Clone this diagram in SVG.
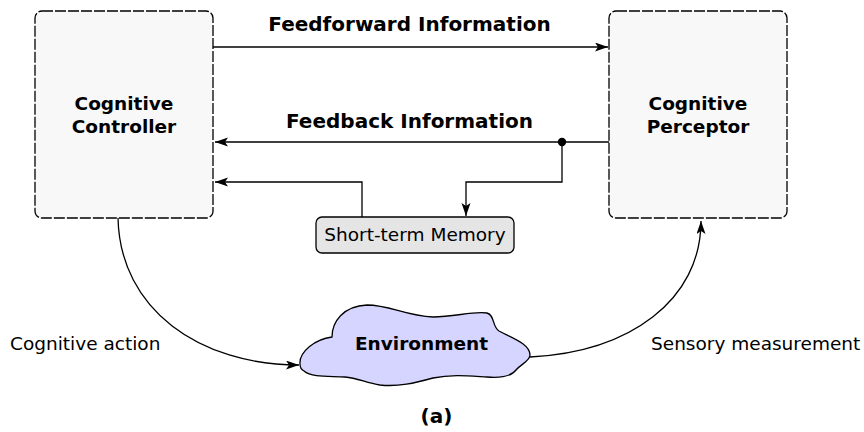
<svg xmlns="http://www.w3.org/2000/svg" width="864" height="432" viewBox="0 0 864 432">
<defs>
<marker id="arr" markerUnits="userSpaceOnUse" markerWidth="14" markerHeight="10" refX="13" refY="4.5" orient="auto">
<path d="M0,0 L13,4.5 L0,9 L3,4.5 z" fill="#000"/>
</marker>
<style>
.box{fill:#f8f8f8;stroke:#000;stroke-width:1.3;stroke-dasharray:11,2}
.line{fill:none;stroke:#000;stroke-width:1.3}
.b{font-family:"DejaVu Sans",Verdana,sans-serif;font-weight:bold;font-size:18.5px;fill:#000;text-anchor:middle}
.h{font-family:"DejaVu Sans",Verdana,sans-serif;font-weight:bold;font-size:20px;fill:#000;text-anchor:middle}
.n{font-family:"DejaVu Sans",Verdana,sans-serif;font-size:18.5px;fill:#000}
</style>
</defs>
<rect width="864" height="432" fill="#fff"/>
<g id="controller">
<rect class="box" x="35" y="11" width="178" height="207" rx="7"/>
<text class="b" x="124" y="110">Cognitive</text>
<text class="b" x="124" y="133">Controller</text>
</g>
<g id="perceptor">
<rect class="box" x="609" y="11" width="178" height="207" rx="7"/>
<text class="b" x="698" y="110">Cognitive</text>
<text class="b" x="698" y="133">Perceptor</text>
</g>
<g id="memory">
<rect x="316" y="217" width="198" height="36" rx="6" fill="#e5e5e5" stroke="#000" stroke-width="1.3"/>
<text class="n" x="415" y="241" text-anchor="middle">Short-term Memory</text>
</g>
<g id="environment">
<path d="M300,364 C299,352 315,339 332,337 C332,322 343,306 367,305 C390,305 405,316 433,317 C455,317 472,311 487,313 C495,315 492,327 499,331 C512,338 530,344 530,355 C530,361 521,364 516,370 C511,377 500,378 487,377 C470,376 452,374 433,378 C415,383 398,387 380,385 C366,383 358,378 345,377 C330,376 312,378 304,371 C300,369 300,366 300,364 Z" fill="#d5d5ff" stroke="#000" stroke-width="1.3"/>
<text class="b" x="421.5" y="350">Environment</text>
</g>
<g id="connectors">
<path class="line" d="M213,47 L608,47" marker-end="url(#arr)"/>
<path class="line" d="M609,142 L215,142" marker-end="url(#arr)"/>
<circle cx="562" cy="142" r="4.2" fill="#000"/>
<path class="line" d="M562,142 L562,182 L466,182 L466,216" marker-end="url(#arr)"/>
<path class="line" d="M362,217 L362,182 L215,182" marker-end="url(#arr)"/>
<path class="line" d="M118,218 C120,310 200,365 299,365" marker-end="url(#arr)"/>
<path class="line" d="M530,357 C630,352 701,300 701,221" marker-end="url(#arr)"/>
</g>
<g id="labels">
<text class="h" x="409.5" y="31">Feedforward Information</text>
<text class="h" x="409.5" y="128">Feedback Information</text>
<text class="n" x="10" y="350">Cognitive action</text>
<text class="n" x="651" y="350">Sensory measurement</text>
<text class="h" x="436.5" y="423">(a)</text>
</g>
</svg>
